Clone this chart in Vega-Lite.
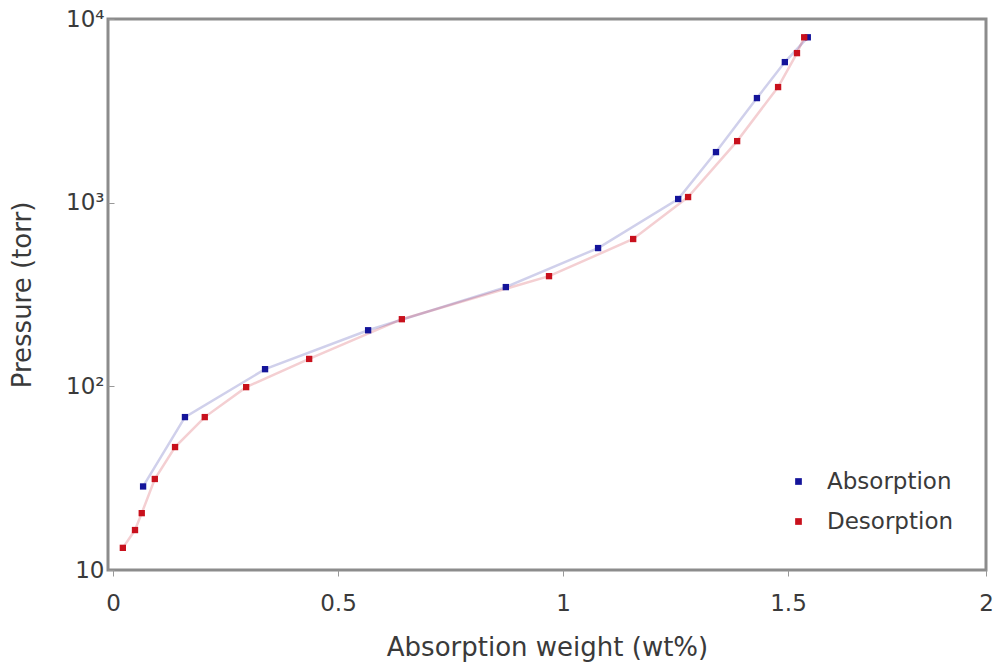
{
  "$schema": "https://vega.github.io/schema/vega-lite/v6.json",
  "width": 878,
  "height": 551,
  "autosize": {"type": "none"},
  "padding": {"left": 108, "top": 19, "right": 7, "bottom": 96},
  "background": "white",
  "config": {
    "font": "DejaVu Sans",
    "view": {"stroke": "#8c8c8c", "strokeWidth": 3},
    "axis": {"grid": false, "domain": false, "labelFont": "DejaVu Sans", "titleFont": "DejaVu Sans", "labelColor": "#3a3a3a", "titleColor": "#3a3a3a", "tickColor": "#999999", "labelFontSize": 23, "titleFontSize": 26, "titleFontWeight": "normal"}
  },
  "data": {"values": [
    {"series": "Absorption", "w": 0.067, "p": 28.5},
    {"series": "Absorption", "w": 0.16, "p": 68},
    {"series": "Absorption", "w": 0.338, "p": 124},
    {"series": "Absorption", "w": 0.567, "p": 202},
    {"series": "Absorption", "w": 0.873, "p": 347},
    {"series": "Absorption", "w": 1.078, "p": 566},
    {"series": "Absorption", "w": 1.256, "p": 1047},
    {"series": "Absorption", "w": 1.34, "p": 1885},
    {"series": "Absorption", "w": 1.431, "p": 3710},
    {"series": "Absorption", "w": 1.493, "p": 5825},
    {"series": "Absorption", "w": 1.544, "p": 7950},
    {"series": "Desorption", "w": 0.022, "p": 13.2},
    {"series": "Desorption", "w": 0.049, "p": 16.5},
    {"series": "Desorption", "w": 0.064, "p": 20.4},
    {"series": "Desorption", "w": 0.093, "p": 31.3},
    {"series": "Desorption", "w": 0.138, "p": 46.7},
    {"series": "Desorption", "w": 0.204, "p": 68},
    {"series": "Desorption", "w": 0.296, "p": 99},
    {"series": "Desorption", "w": 0.436, "p": 141},
    {"series": "Desorption", "w": 0.642, "p": 232},
    {"series": "Desorption", "w": 0.969, "p": 398},
    {"series": "Desorption", "w": 1.156, "p": 634},
    {"series": "Desorption", "w": 1.278, "p": 1073},
    {"series": "Desorption", "w": 1.387, "p": 2163},
    {"series": "Desorption", "w": 1.478, "p": 4260},
    {"series": "Desorption", "w": 1.52, "p": 6520},
    {"series": "Desorption", "w": 1.536, "p": 7950}
  ]},
  "encoding": {
    "x": {"field": "w", "type": "quantitative",
      "scale": {"domain": [-0.011, 1.94], "nice": false, "zero": false},
      "axis": {"title": "Absorption weight (wt%)", "values": [0, 0.5, 1, 1.5, 1.94], "labelExpr": "datum.value > 1.9 ? '2' : format(datum.value, '~g')", "tickSize": 6, "labelPadding": 16, "titlePadding": 19, "labelFlush": false}},
    "y": {"field": "p", "type": "quantitative",
      "scale": {"type": "log", "domain": [10, 10000], "nice": false},
      "axis": {"title": "Pressure (torr)", "values": [10, 100, 1000, 10000], "labelExpr": "datum.value == 10 ? '10' : datum.value == 100 ? '10²' : datum.value == 1000 ? '10³' : '10⁴'", "tickSize": -6, "labelPadding": 10, "titlePadding": 30}},
    "color": {"field": "series", "type": "nominal",
      "scale": {"domain": ["Absorption", "Desorption"], "range": ["#14149a", "#c8101c"]},
      "legend": {"title": null, "orient": "none", "legendX": 679, "legendY": 451, "padding": 0, "labelFontSize": 23, "labelFont": "DejaVu Sans", "labelColor": "#3a3a3a", "rowPadding": 16, "symbolType": "square", "symbolSize": 45, "labelOffset": 17, "symbolStrokeWidth": 0, "symbolOpacity": 1}}
  },
  "layer": [
    {"mark": {"type": "line", "strokeWidth": 2.5, "opacity": 0.2}},
    {"mark": {"type": "point", "shape": "square", "filled": true, "size": 40, "opacity": 1}}
  ]
}
